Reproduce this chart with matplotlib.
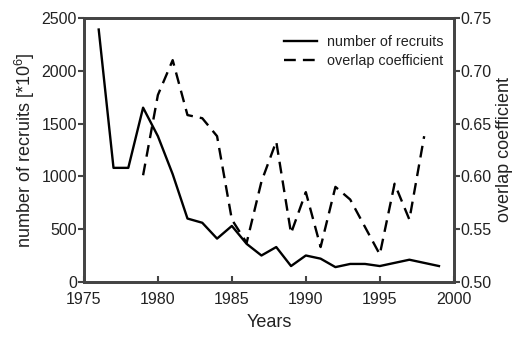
import matplotlib
matplotlib.use("Agg")
import matplotlib.pyplot as plt

plt.rcParams["font.family"] = ["Liberation Sans", "DejaVu Sans"]
plt.rcParams["mathtext.fontset"] = "custom"
plt.rcParams["mathtext.rm"] = "Liberation Sans"

recruit_years = list(range(1976, 2000))
recruits = [2390, 1080, 1080, 1650, 1380, 1020, 600, 560, 410, 530, 360, 250,
            330, 150, 250, 220, 140, 170, 170, 150, 180, 210, 180, 150]

overlap_years = list(range(1979, 1999))
overlap = [0.601, 0.677, 0.710, 0.658, 0.655, 0.638, 0.559, 0.537, 0.595, 0.633,
           0.546, 0.585, 0.533, 0.590, 0.578, 0.552, 0.526, 0.593, 0.559, 0.638]

x_ticks = [1975, 1980, 1985, 1990, 1995, 2000]
left_ticks = [0, 500, 1000, 1500, 2000, 2500]
right_ticks = [0.50, 0.55, 0.60, 0.65, 0.70, 0.75]

spine_color = "#444444"
text_color = "#222222"

fig = plt.figure(figsize=(5.18, 3.38), dpi=100)
ax = fig.add_axes([0.162, 0.166, 0.714, 0.781])
ax2 = ax.twinx()

l1, = ax.plot(recruit_years, recruits, color="black", lw=1.7, label="number of recruits")
l2, = ax2.plot(overlap_years, overlap, color="black", lw=1.7, linestyle=(0, (5, 3)),
               label="overlap coefficient")

ax.set_xlim(1975, 2000)
ax.set_ylim(0, 2500)
ax2.set_ylim(0.50, 0.75)
ax.set_xticks(x_ticks)
ax.set_yticks(left_ticks)
ax2.set_yticks(right_ticks)
ax2.set_yticklabels([f"{v:.2f}" for v in right_ticks])

for a in (ax, ax2):
    for s in a.spines.values():
        s.set_color(spine_color)
        s.set_linewidth(2)
ax.tick_params(axis="x", direction="in", length=4, width=1.5, color=spine_color,
               labelsize=11.5, labelcolor=text_color, pad=7)
ax.tick_params(axis="y", direction="out", length=4, width=1.5, color=spine_color,
               labelsize=11.5, labelcolor=text_color, pad=1)
ax2.tick_params(axis="y", direction="out", length=4, width=1.5, color=spine_color,
                labelsize=11.5, labelcolor=text_color, pad=1)

ax.set_xlabel("Years", fontsize=13, color=text_color, labelpad=5)
ax.set_ylabel("number of recruits [*10$^6$]", fontsize=13, color=text_color, labelpad=3)
ax2.set_ylabel("overlap coefficient", fontsize=13, color=text_color, labelpad=3)

leg = ax.legend([l1, l2], [l1.get_label(), l2.get_label()], loc="upper right",
                bbox_to_anchor=(1.0, 0.975), frameon=False, fontsize=10.4,
                handlelength=2.3, handletextpad=0.7, borderaxespad=0.3, labelspacing=0.35)
for t in leg.get_texts():
    t.set_color(text_color)

fig.savefig("out.png", dpi=100)
